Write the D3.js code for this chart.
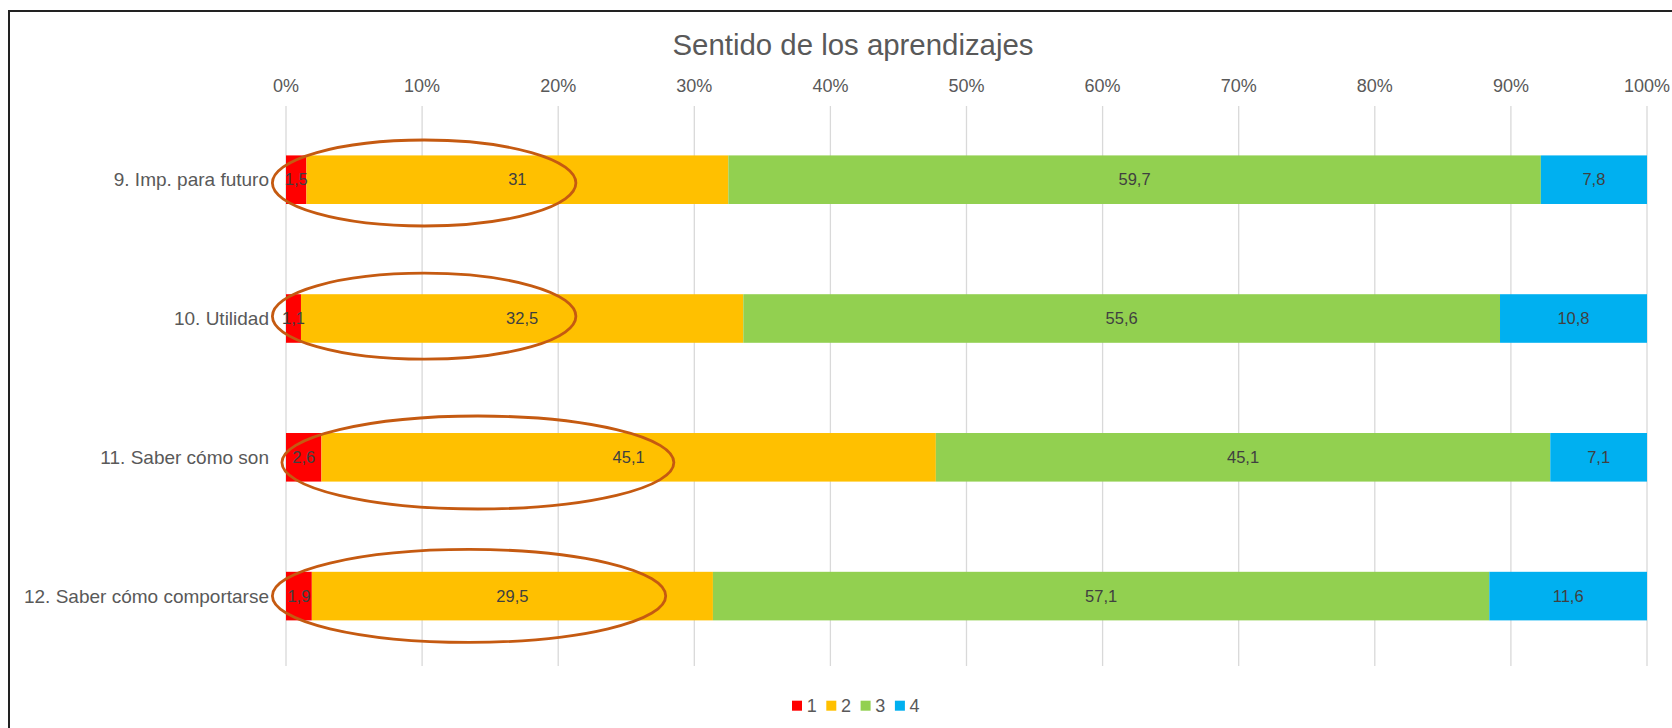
<!DOCTYPE html>
<html lang="es">
<head>
    <meta charset="UTF-8">
    <title>Sentido de los aprendizajes</title>
    <script src="https://d3js.org/d3.v7.min.js"></script>
    <style>
        body {
            margin: 0;
            background-color: #fff;
            font-family: 'Liberation Sans', Arial, sans-serif;
        }
        .tick-label, .legend-label {
            fill: #595959;
            font-size: 18px;
        }
        .cat-label {
            fill: #595959;
            font-size: 19px;
        }
        .value-label {
            fill: #404040;
            font-size: 16.5px;
        }
        .grid {
            stroke: #d9d9d9;
            stroke-width: 1.3px;
        }
        .oval {
            fill: none;
            stroke: #c55a11;
            stroke-width: 2.8px;
        }
    </style>
</head>
<body>
<svg id="chart" width="1672" height="728"></svg>

<script>
    // data
    var categories = ["9. Imp. para futuro", "10. Utilidad", "11. Saber cómo son", "12. Saber cómo comportarse"];
    var seriesNames = ["1", "2", "3", "4"];
    var serie1 = [1.5, 1.1, 2.6, 1.9];
    var serie2 = [31, 32.5, 45.1, 29.5];
    var serie3 = [59.7, 55.6, 45.1, 57.1];
    var serie4 = [7.8, 10.8, 7.1, 11.6];
    var ticks = [0, 0.1, 0.2, 0.3, 0.4, 0.5, 0.6, 0.7, 0.8, 0.9, 1];
    var colors = ["#ff0000", "#ffc000", "#92d050", "#00b0f0"];

    // hand-drawn ovals, in % of the axis
    var ovalStart = [-1, -1, -0.3, -1];
    var ovalEnd = [21.3, 21.3, 28.5, 27.9];

    var svg = d3.select("#chart");

    // frame (only top and left edges show in the picture)
    svg.append("rect").attr("x", 9).attr("y", 11).attr("width", 2000).attr("height", 1000)
        .attr("fill", "none").attr("stroke", "#222").attr("stroke-width", 2);

    var x = d3.scaleLinear().domain([0, 1]).range([286, 1647]);
    var y = d3.scaleBand().domain(categories).range([110.3, 665.5]).paddingInner(0.65).paddingOuter(0.325);

    // build rows of stacked shares (100% stacked)
    var series = [serie1, serie2, serie3, serie4];
    var rows = categories.map(function(c, i) {
        var row = {cat: c};
        var total = d3.sum(series, function(s) { return s[i]; });
        seriesNames.forEach(function(k, j) { row[k] = series[j][i] / total; row["v" + k] = series[j][i]; });
        return row;
    });
    var stack = d3.stack().keys(seriesNames)(rows);

    // title
    svg.append("text").attr("x", 853).attr("y", 55).attr("text-anchor", "middle")
        .style("font-size", "29.4px").style("fill", "#595959").text("Sentido de los aprendizajes");

    // gridlines + top axis labels
    svg.selectAll(".grid").data(ticks).enter().append("line").attr("class", "grid")
        .attr("x1", function(d) { return x(d); }).attr("x2", function(d) { return x(d); })
        .attr("y1", 106).attr("y2", 666);
    svg.selectAll(".tick-label").data(ticks).enter().append("text").attr("class", "tick-label")
        .attr("x", function(d) { return x(d); }).attr("y", 92).attr("text-anchor", "middle")
        .text(d3.format(".0%"));

    // category labels
    svg.selectAll(".cat-label").data(categories).enter().append("text").attr("class", "cat-label")
        .attr("x", 269).attr("y", function(d) { return y(d) + y.bandwidth() / 2; })
        .attr("dy", "0.35em").attr("text-anchor", "end").text(function(d) { return d; });

    // bars
    var layer = svg.selectAll(".layer").data(stack).enter().append("g").attr("class", "layer")
        .attr("fill", function(d, i) { return colors[i]; });
    layer.selectAll("rect").data(function(d) { return d; }).enter().append("rect")
        .attr("x", function(d) { return x(d[0]); })
        .attr("y", function(d) { return y(d.data.cat); })
        .attr("width", function(d) { return x(d[1]) - x(d[0]); })
        .attr("height", y.bandwidth());

    // value labels
    var fmt = function(v) { return String(v).replace(".", ","); };
    stack.forEach(function(s) {
        svg.selectAll(null).data(s).enter().append("text").attr("class", "value-label")
            .attr("x", function(d) { return (x(d[0]) + x(d[1])) / 2; })
            .attr("y", function(d) { return y(d.data.cat) + y.bandwidth() / 2; })
            .attr("dy", "0.35em").attr("text-anchor", "middle")
            .text(function(d) { return fmt(d.data["v" + s.key]); });
    });

    // ovals
    var ovalRy = [43, 43, 46.5, 46.5];
    var ovalShift = [3.3, -2.3, 5.2, -0.2];
    svg.selectAll(".oval").data(categories).enter().append("ellipse").attr("class", "oval")
        .attr("cx", function(d, i) { return (x(ovalStart[i] / 100) + x(ovalEnd[i] / 100)) / 2; })
        .attr("cy", function(d, i) { return y(d) + y.bandwidth() / 2 + ovalShift[i]; })
        .attr("rx", function(d, i) { return (x(ovalEnd[i] / 100) - x(ovalStart[i] / 100)) / 2; })
        .attr("ry", function(d, i) { return ovalRy[i]; });

    // legend
    var legend = svg.selectAll(".legend").data(seriesNames).enter().append("g").attr("class", "legend")
        .attr("transform", function(d, i) { return "translate(" + (792 + i * 34.3) + ",700.7)"; });
    legend.append("rect").attr("width", 10).attr("height", 10).attr("fill", function(d, i) { return colors[i]; });
    legend.append("text").attr("class", "legend-label").attr("x", 14.7).attr("y", 11)
        .text(function(d) { return d; });
</script>
</body>
</html>
